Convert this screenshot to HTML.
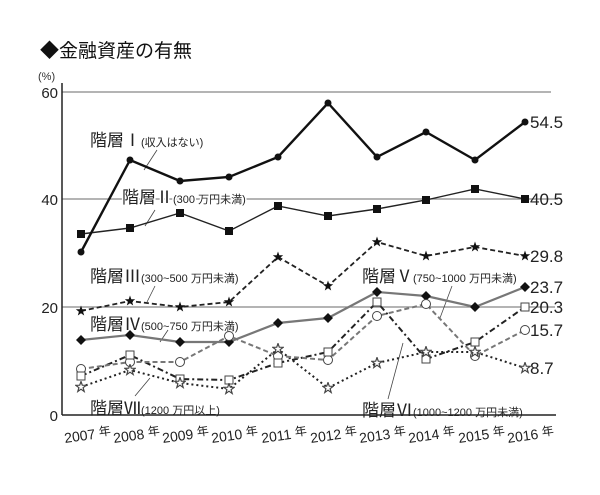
<!DOCTYPE html>
<html><head><meta charset="utf-8"><style>
body{margin:0;background:#fff;}
svg{display:block;font-family:"Liberation Sans","Noto Sans CJK JP",sans-serif;}
</style></head><body>
<svg width="600" height="495" viewBox="0 0 600 495" xmlns="http://www.w3.org/2000/svg">
<defs>
<symbol id="st" viewBox="-6 -6 12 12"><polygon points="0,-5.5 1.3,-1.8 5.2,-1.7 2.1,0.7 3.2,4.5 0,2.2 -3.2,4.5 -2.1,0.7 -5.2,-1.7 -1.3,-1.8"/></symbol>
</defs>
<text x="40" y="57" font-size="19" fill="#111">◆金融資産の有無</text>
<text x="38" y="80" font-size="11" fill="#333">(%)</text>
<g stroke="#888" stroke-width="1.3">
<line x1="62" y1="92" x2="551" y2="92"/>
<line x1="62" y1="199" x2="558" y2="199"/>
<line x1="62" y1="307" x2="555" y2="307"/>
</g>
<g stroke="#222" stroke-width="1.5">
<line x1="62" y1="83" x2="62" y2="415"/>
<line x1="62" y1="415" x2="556" y2="415"/>
</g>
<g font-size="15" fill="#222" text-anchor="end">
<text x="58" y="98">60</text><text x="58" y="205">40</text><text x="58" y="313">20</text><text x="58" y="421">0</text>
</g>
<g font-size="14" fill="#222">
<text transform="translate(65,443) rotate(-8)">2007 <tspan font-size="12" dy="-2">年</tspan></text>
<text transform="translate(114,443) rotate(-8)">2008 <tspan font-size="12" dy="-2">年</tspan></text>
<text transform="translate(163,443) rotate(-8)">2009 <tspan font-size="12" dy="-2">年</tspan></text>
<text transform="translate(212,443) rotate(-8)">2010 <tspan font-size="12" dy="-2">年</tspan></text>
<text transform="translate(262,443) rotate(-8)">2011 <tspan font-size="12" dy="-2">年</tspan></text>
<text transform="translate(311,443) rotate(-8)">2012 <tspan font-size="12" dy="-2">年</tspan></text>
<text transform="translate(360,443) rotate(-8)">2013 <tspan font-size="12" dy="-2">年</tspan></text>
<text transform="translate(409,443) rotate(-8)">2014 <tspan font-size="12" dy="-2">年</tspan></text>
<text transform="translate(459,443) rotate(-8)">2015 <tspan font-size="12" dy="-2">年</tspan></text>
<text transform="translate(508,443) rotate(-8)">2016 <tspan font-size="12" dy="-2">年</tspan></text>
</g>
<g stroke="#444" stroke-width="0.8">
<line x1="157" y1="150" x2="144" y2="170"/>
<line x1="155" y1="210" x2="145" y2="226"/>
<line x1="155" y1="286" x2="147" y2="302"/>
<line x1="168" y1="330" x2="160" y2="342"/>
<line x1="452" y1="286" x2="440" y2="318"/>
<line x1="403" y1="343" x2="388" y2="399"/>
<line x1="150" y1="378" x2="135" y2="396"/>
</g>
<!-- VII open stars dotted -->
<polyline fill="none" stroke="#222" stroke-width="2" stroke-dasharray="2,3" points="81,387 130,370 180,383 229,389 278,349 328,388 377,363 426,352 475,352 525,368"/>
<!-- VI squares dash-dot -->
<polyline fill="none" stroke="#222" stroke-width="2" stroke-dasharray="6,3,2,3" points="81,376 130,355 180,379 229,380 278,363 328,352 377,302 426,359 475,342 525,307"/>
<!-- V circles gray dashed -->
<polyline fill="none" stroke="#777" stroke-width="2" stroke-dasharray="5,3" points="81,369 130,362 180,362 229,336 278,356 328,360 377,316 426,304 475,356 525,330"/>
<!-- IV -->
<polyline fill="none" stroke="#777" stroke-width="2.2" points="81,340 130,335 180,342 229,342 278,323 328,318 377,292 426,296 475,307 525,287"/>
<!-- III -->
<polyline fill="none" stroke="#222" stroke-width="1.8" stroke-dasharray="5,3" points="81,311 130,301 180,307 229,302 278,257 328,286 377,242 426,256 475,247 525,256"/>
<!-- II -->
<polyline fill="none" stroke="#222" stroke-width="1.4" points="81,234 130,228 180,213 229,231 278,206 328,216 377,209 426,200 475,189 525,199"/>
<!-- I -->
<polyline fill="none" stroke="#111" stroke-width="2.4" points="81,252 130,160 180,181 229,177 278,157 328,103 377,157 426,132 475,160 525,122"/>
<g fill="#111">
<circle cx="81" cy="252" r="3.5"/><circle cx="130" cy="160" r="3.5"/><circle cx="180" cy="181" r="3.5"/><circle cx="229" cy="177" r="3.5"/><circle cx="278" cy="157" r="3.5"/><circle cx="328" cy="103" r="3.5"/><circle cx="377" cy="157" r="3.5"/><circle cx="426" cy="132" r="3.5"/><circle cx="475" cy="160" r="3.5"/><circle cx="525" cy="122" r="3.5"/>
</g>
<g fill="#111">
<rect x="77" y="230" width="8" height="8"/><rect x="126" y="224" width="8" height="8"/><rect x="176" y="209" width="8" height="8"/><rect x="225" y="227" width="8" height="8"/><rect x="274" y="202" width="8" height="8"/><rect x="324" y="212" width="8" height="8"/><rect x="373" y="205" width="8" height="8"/><rect x="422" y="196" width="8" height="8"/><rect x="471" y="185" width="8" height="8"/><rect x="521" y="195" width="8" height="8"/>
</g>
<g fill="#111">
<use href="#st" x="75" y="305" width="12" height="12"/><use href="#st" x="124" y="295" width="12" height="12"/><use href="#st" x="174" y="301" width="12" height="12"/><use href="#st" x="223" y="296" width="12" height="12"/><use href="#st" x="272" y="251" width="12" height="12"/><use href="#st" x="322" y="280" width="12" height="12"/><use href="#st" x="371" y="236" width="12" height="12"/><use href="#st" x="420" y="250" width="12" height="12"/><use href="#st" x="469" y="241" width="12" height="12"/><use href="#st" x="519" y="250" width="12" height="12"/>
</g>
<g fill="#111">
<polygon points="81,335 86,340 81,345 76,340"/><polygon points="130,330 135,335 130,340 125,335"/><polygon points="180,337 185,342 180,347 175,342"/><polygon points="229,337 234,342 229,347 224,342"/><polygon points="278,318 283,323 278,328 273,323"/><polygon points="328,313 333,318 328,323 323,318"/><polygon points="377,287 382,292 377,297 372,292"/><polygon points="426,291 431,296 426,301 421,296"/><polygon points="475,302 480,307 475,312 470,307"/><polygon points="525,282 530,287 525,292 520,287"/>
</g>
<g fill="#fff" stroke="#444" stroke-width="1">
<circle cx="81" cy="369" r="4.5"/><circle cx="130" cy="362" r="4.5"/><circle cx="180" cy="362" r="4.5"/><circle cx="229" cy="336" r="4.5"/><circle cx="278" cy="356" r="4.5"/><circle cx="328" cy="360" r="4.5"/><circle cx="377" cy="316" r="4.5"/><circle cx="426" cy="304" r="4.5"/><circle cx="475" cy="356" r="4.5"/><circle cx="525" cy="330" r="4.5"/>
</g>
<g fill="#fff" stroke="#444" stroke-width="1">
<rect x="77" y="372" width="8" height="8"/><rect x="126" y="351" width="8" height="8"/><rect x="176" y="375" width="8" height="8"/><rect x="225" y="376" width="8" height="8"/><rect x="274" y="359" width="8" height="8"/><rect x="324" y="348" width="8" height="8"/><rect x="373" y="298" width="8" height="8"/><rect x="422" y="355" width="8" height="8"/><rect x="471" y="338" width="8" height="8"/><rect x="521" y="303" width="8" height="8"/>
</g>
<g fill="#fff" stroke="#444" stroke-width="1.2">
<use href="#st" x="75" y="381" width="12" height="12"/><use href="#st" x="124" y="364" width="12" height="12"/><use href="#st" x="174" y="377" width="12" height="12"/><use href="#st" x="223" y="383" width="12" height="12"/><use href="#st" x="272" y="343" width="12" height="12"/><use href="#st" x="322" y="382" width="12" height="12"/><use href="#st" x="371" y="357" width="12" height="12"/><use href="#st" x="420" y="346" width="12" height="12"/><use href="#st" x="469" y="346" width="12" height="12"/><use href="#st" x="519" y="362" width="12" height="12"/>
</g>
<g font-size="17" fill="#222">
<text x="530" y="128">54.5</text><text x="530" y="205">40.5</text><text x="530" y="262">29.8</text><text x="530" y="293">23.7</text><text x="530" y="313">20.3</text><text x="530" y="336">15.7</text><text x="530" y="374">8.7</text>
</g>
<g fill="#222">
<text x="90" y="146" font-size="17">階層Ⅰ<tspan font-size="11">(収入はない)</tspan></text>
<text x="122" y="203" font-size="17" stroke="#fff" stroke-width="3" paint-order="stroke">階層Ⅱ<tspan font-size="11">(300 万円未満)</tspan></text>
<text x="90" y="282" font-size="17">階層Ⅲ<tspan font-size="11">(300~500 万円未満)</tspan></text>
<text x="90" y="330" font-size="17">階層Ⅳ<tspan font-size="11">(500~750 万円未満)</tspan></text>
<text x="362" y="282" font-size="17">階層Ⅴ<tspan font-size="11">(750~1000 万円未満)</tspan></text>
<text x="362" y="416" font-size="17">階層Ⅵ<tspan font-size="11">(1000~1200 万円未満)</tspan></text>
<text x="90" y="414" font-size="17">階層Ⅶ<tspan font-size="11">(1200 万円以上)</tspan></text>
</g>
</svg>
</body></html>
